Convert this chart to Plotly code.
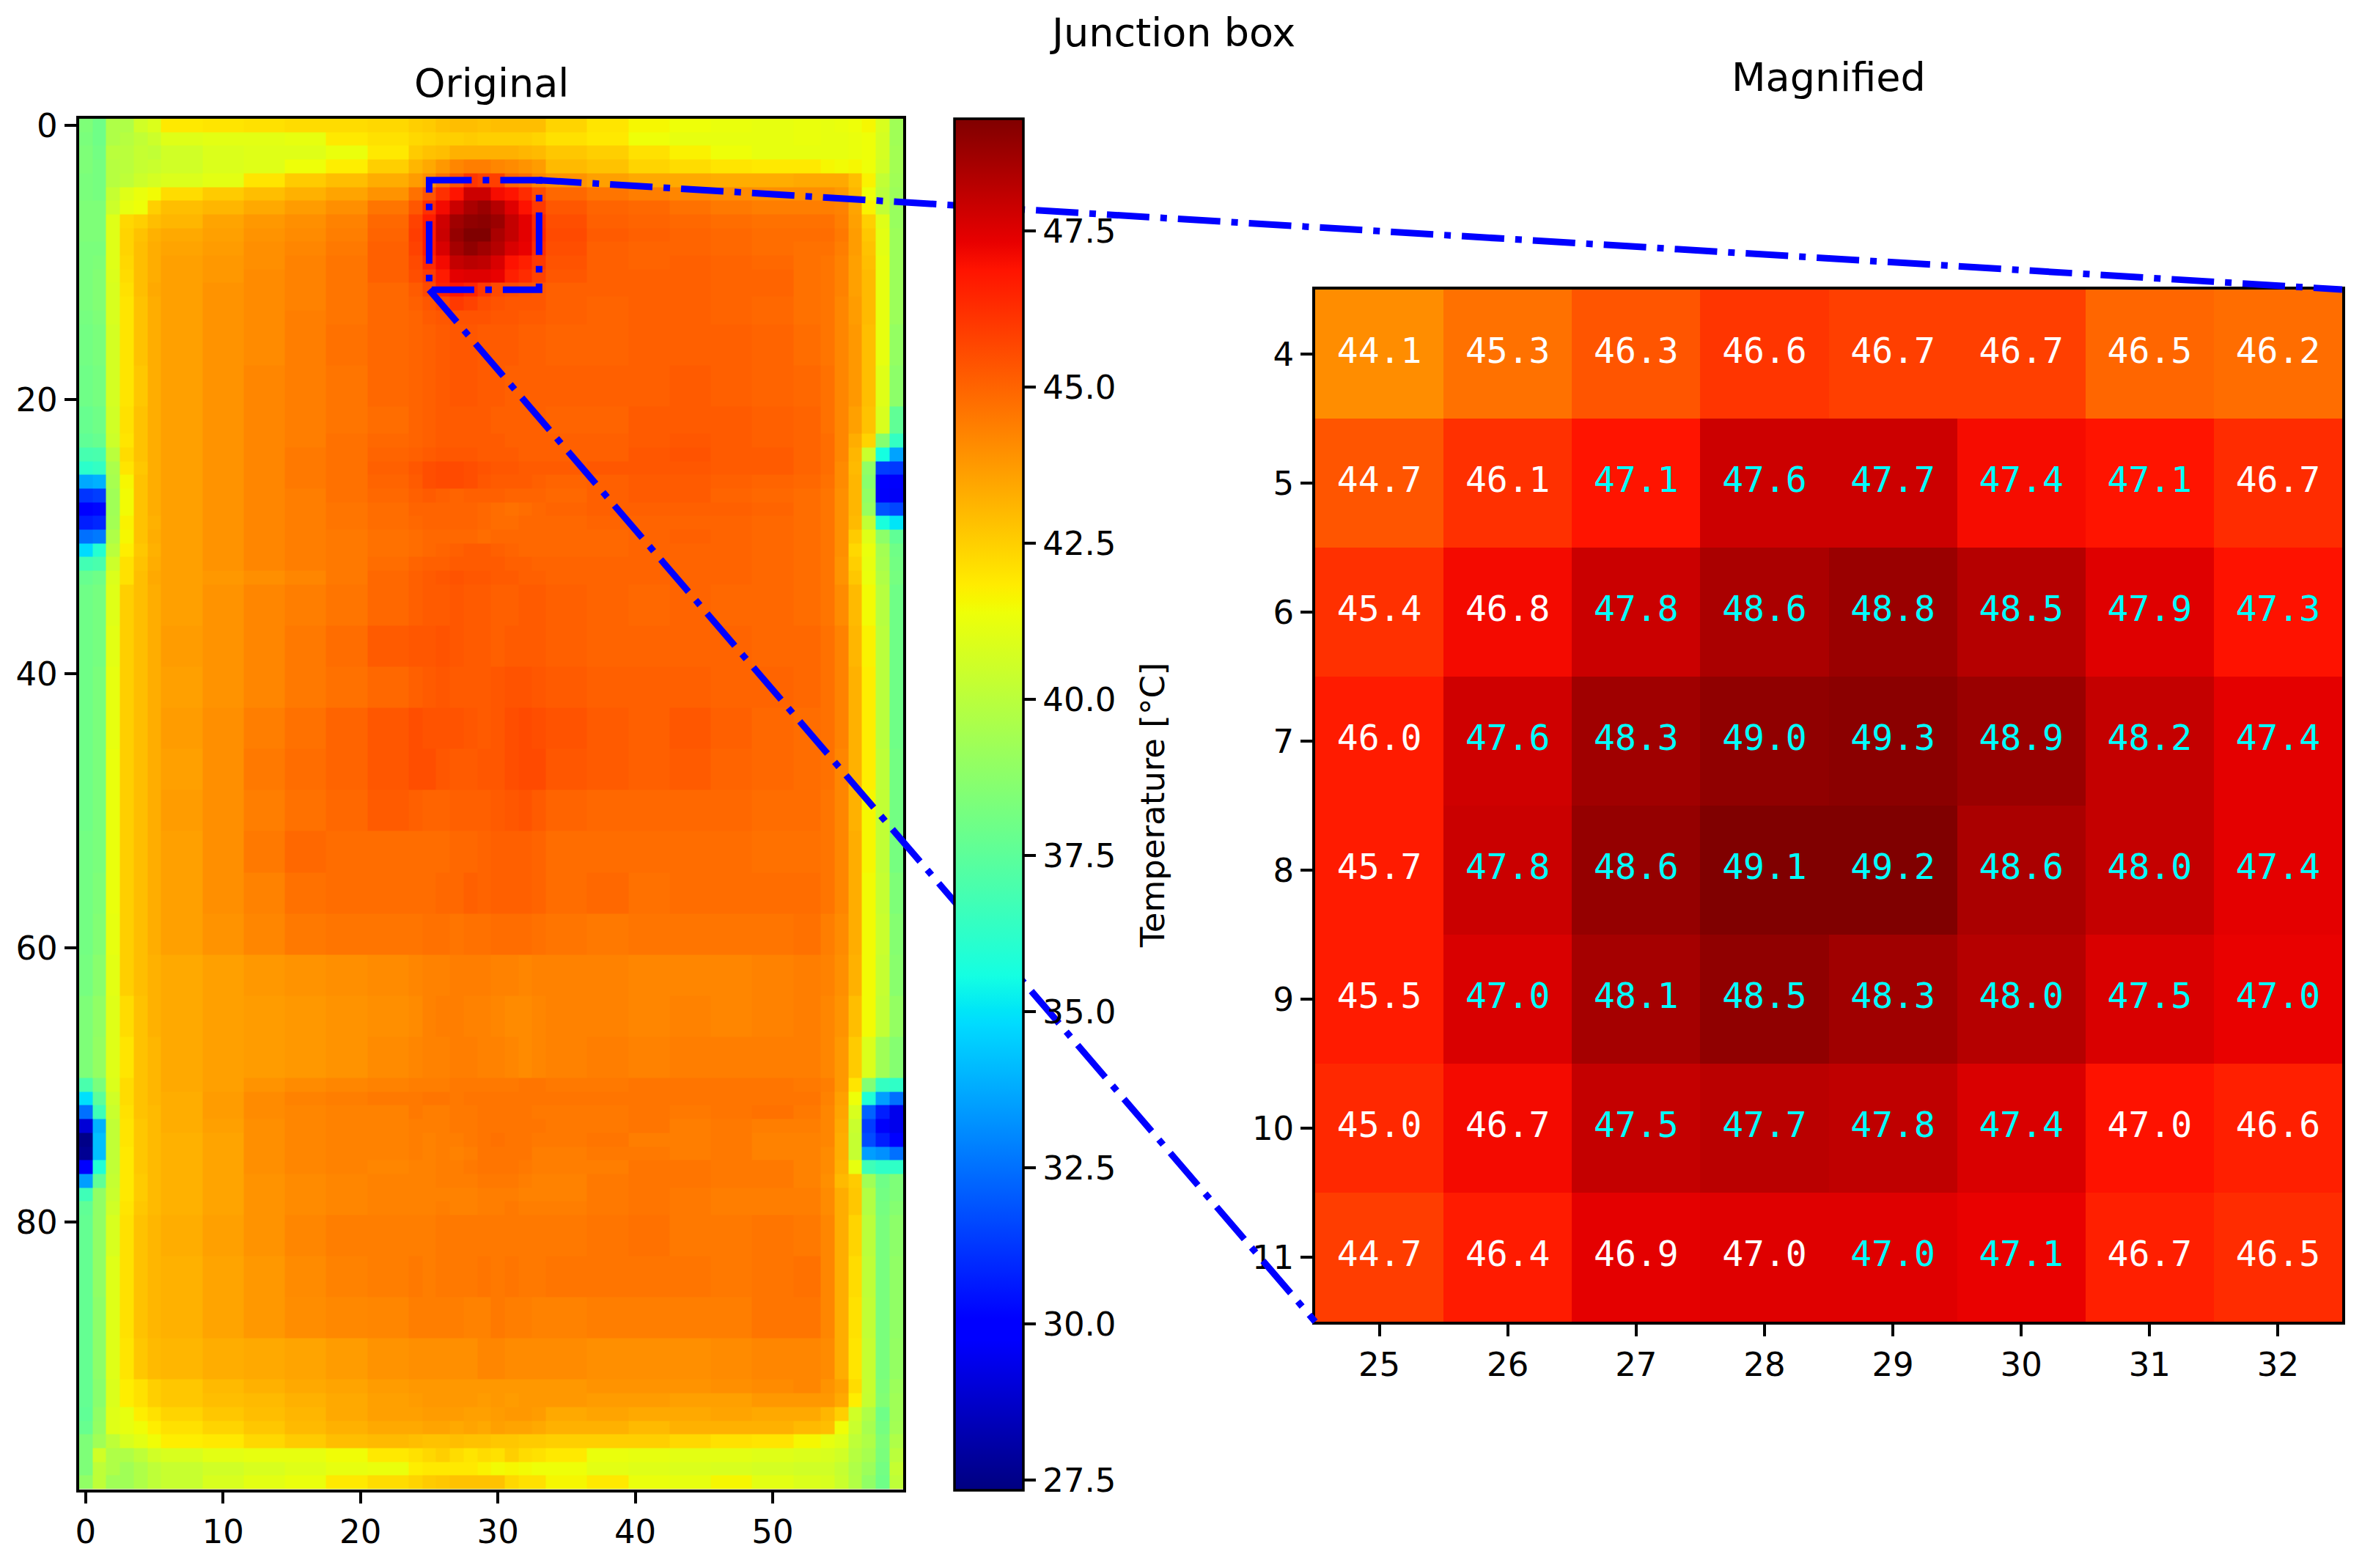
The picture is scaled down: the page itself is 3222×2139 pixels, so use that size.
import plotly.graph_objects as go

# ---- data -----------------------------------------------------------------
COL_EDGES = [-0.5, 0.5, 1.5, 2.5, 3.5, 4.5, 5.5, 8.5, 11.5, 14.5, 17.5, 20.5, 23.5,
             24.5, 25.5, 26.5, 27.5, 28.5, 29.5, 30.5, 31.5, 32.5, 33.5,
             36.5, 39.5, 42.5, 45.5, 48.5, 51.5, 53.5,
             54.5, 55.5, 56.5, 57.5, 58.5, 59.5]
ROW_EDGES = [-0.5, 0.5, 1.5, 2.5, 3.5, 4.5, 5.5, 6.5, 7.5, 8.5, 9.5, 10.5, 11.5, 12.5, 13.5, 14.5,
             17.5, 20.5, 22.5,
             23.5, 24.5, 25.5, 26.5, 27.5, 28.5, 29.5, 30.5, 31.5, 32.5, 33.5,
             36.5, 39.5, 42.5, 45.5, 48.5, 51.5, 54.5, 57.5, 60.5, 63.5, 66.5, 69.5,
             70.5, 71.5, 72.5, 73.5, 74.5, 75.5, 76.5, 77.5, 78.5, 79.5,
             82.5, 85.5, 88.5, 91.5,
             92.5, 93.5, 94.5, 95.5, 96.5, 97.5, 98.5, 99.5]

ORIGINAL_TEMPS = [
 [38.4,38.0,39.7,39.7,40.6,40.9, 41.9,42.0,42.1,42.2,42.2,42.3, 42.5,42.6,42.8,42.9,42.9,42.8,42.9,42.9,42.9,42.9, 42.4,42.0,41.6,41.4,41.3,41.2,41.3, 41.2,41.3,41.4,41.6,40.8,39.3],
 [38.3,38.0,39.7,39.9,40.2,40.5, 41.0,41.1,41.1,41.2,41.9,42.1, 42.3,42.4,42.5,42.5,42.6,42.5,42.5,42.5,42.5,42.4, 42.1,41.9,41.4,41.2,41.2,41.2,41.3, 41.2,41.2,41.3,41.4,40.7,39.3],
 [38.4,38.1,40.0,40.0,40.3,40.2, 40.6,40.9,41.0,41.0,41.3,41.9, 42.6,42.8,42.9,43.2,43.2,43.2,43.2,43.2,43.1,43.0, 42.7,42.5,42.1,41.7,41.4,41.2,41.2, 41.2,41.2,41.3,41.4,40.7,39.4],
 [38.4,38.2,39.9,40.0,40.3,40.4, 40.6,40.9,41.0,41.4,41.8,42.5, 43.1,43.4,43.8,44.2,44.4,44.4,44.2,44.1,43.9,43.7, 43.0,42.8,42.4,42.2,42.0,41.9,41.9, 41.6,41.5,41.6,41.4,40.6,39.4],
 [38.3,38.2,39.9,40.1,40.5,40.7, 40.9,41.1,42.0,42.6,42.9,43.3, 43.7,44.05,44.7,45.35,46.1,45.85,45.85,44.95,44.8,44.2, 43.9,43.6,43.4,43.4,43.3,43.3,43.4, 43.4,43.4,42.9,41.7,40.2,39.3],
 [38.3,38.2,40.3,41.0,41.3,41.5, 42.2,42.6,42.9,43.2,43.5,43.9, 44.7,45.35,46.2,46.86,47.85,47.85,47.05,46.86,46.3,45.5, 44.9,44.6,44.4,44.2,44.1,44.0,44.0, 44.0,43.8,43.1,41.4,40.0,39.2],
 [38.4,38.4,40.5,41.2,41.4,42.5, 42.9,43.1,43.4,43.7,44.0,44.6, 45.3,46.2,47.1,47.9,48.5,48.8,48.3,47.5,46.9,46.0, 45.3,45.0,44.9,44.7,44.5,44.4,44.4, 44.4,44.3,43.5,41.7,40.2,39.1],
 [38.4,38.4,41.0,42.3,42.5,42.9, 43.1,43.5,43.8,44.0,44.3,44.9, 45.8,46.7,47.8,48.7,49.0,49.1,48.8,48.0,47.4,46.4, 45.5,45.1,45.0,44.9,44.8,44.7,44.7, 44.7,44.4,43.6,42.5,41.0,39.1],
 [38.4,38.4,41.0,42.4,42.8,43.2, 43.4,43.6,43.9,44.1,44.4,45.0, 45.9,46.7,47.9,48.9,49.3,49.3,48.5,48.0,47.4,46.5, 45.6,45.2,45.1,45.0,44.9,44.8,44.8, 44.8,44.5,43.7,42.7,41.1,39.2],
 [38.3,38.3,41.0,42.4,42.9,43.3, 43.5,43.7,44.0,44.2,44.5,45.1, 45.8,46.7,47.6,48.6,49.0,48.7,48.3,47.6,47.3,46.3, 45.5,45.1,45.0,45.0,44.9,44.8,44.7, 44.7,44.4,43.7,42.8,41.1,39.2],
 [38.3,38.4,41.0,42.3,42.9,43.3, 43.6,43.8,44.0,44.3,44.6,45.1, 45.6,46.4,47.1,48.0,48.2,48.1,47.6,46.9,46.6,46.0, 45.4,45.1,45.0,45.1,45.0,44.9,44.7, 44.6,44.3,43.6,42.9,41.2,39.2],
 [38.3,38.5,40.9,42.2,42.9,43.3, 43.6,43.8,44.1,44.3,44.6,45.1, 45.5,45.9,46.7,47.4,47.5,47.5,47.3,46.6,46.3,45.8, 45.3,45.1,45.1,45.1,45.0,45.0,44.7, 44.6,44.3,43.6,43.0,41.2,39.2],
 [38.3,38.5,40.8,42.1,42.9,43.4, 43.6,43.9,44.1,44.3,44.6,44.9, 45.2,45.6,46.5,46.8,46.5,46.0,45.6,45.5,45.4,45.3, 45.1,45.1,45.1,45.1,45.0,45.0,44.7, 44.6,44.3,43.6,43.0,41.2,39.2],
 [38.3,38.5,40.8,42.0,42.8,43.3, 43.6,43.9,44.1,44.3,44.6,44.9, 45.1,45.3,45.6,46.0,45.8,45.5,45.4,45.3,45.3,45.3, 45.1,45.0,45.1,45.1,45.0,44.9,44.7, 44.6,44.2,43.7,43.0,41.2,39.2],
 [38.2,38.4,40.8,42.0,42.8,43.3, 43.6,43.9,44.1,44.4,44.6,44.9, 45.0,45.2,45.3,45.4,45.4,45.4,45.3,45.3,45.2,45.2, 45.1,45.0,45.1,45.1,45.0,44.9,44.7, 44.6,44.2,43.7,43.0,41.2,39.2],
 [38.1,38.3,40.7,42.0,42.8,43.3, 43.6,43.9,44.1,44.4,44.7,44.9, 45.0,45.1,45.2,45.3,45.3,45.2,45.2,45.2,45.1,45.1, 45.0,45.0,45.1,45.1,45.1,45.0,44.8, 44.6,44.2,43.8,42.9,41.2,39.0],
 [38.0,38.2,40.7,42.0,42.7,43.3, 43.6,43.9,44.2,44.4,44.6,44.9, 45.0,45.1,45.2,45.3,45.3,45.2,45.2,45.1,45.1,45.1, 45.1,45.1,45.1,45.2,45.1,45.0,44.9, 44.7,44.2,43.8,42.9,41.0,38.8],
 [37.8,38.0,40.6,42.1,42.8,43.3, 43.6,43.9,44.2,44.4,44.6,44.8, 45.0,45.1,45.2,45.2,45.2,45.2,45.1,45.1,45.1,45.1, 45.0,45.0,45.2,45.2,45.2,45.1,45.0, 44.7,44.2,43.6,42.8,40.8,37.6],
 [37.6,37.8,40.5,42.0,42.8,43.3, 43.6,43.9,44.2,44.4,44.7,44.9, 45.0,45.1,45.2,45.2,45.2,45.2,45.2,45.1,45.1,45.1, 45.1,45.1,45.2,45.3,45.2,45.1,45.0, 44.8,44.2,43.3,42.4,38.6,36.4],
 [36.9,37.0,40.0,42.2,42.8,43.3, 43.6,43.9,44.2,44.5,44.7,45.0, 45.1,45.2,45.3,45.3,45.3,45.2,45.2,45.2,45.1,45.1, 45.1,45.1,45.3,45.4,45.2,45.2,45.0, 44.8,44.2,43.1,40.4,35.6,33.6],
 [36.2,36.4,39.6,42.0,42.7,43.3, 43.6,43.9,44.2,44.5,44.7,45.1, 45.3,45.5,45.6,45.6,45.5,45.4,45.3,45.3,45.2,45.2, 45.2,45.3,45.3,45.3,45.2,45.2,45.0, 44.8,44.1,43.0,38.9,31.4,31.3],
 [33.7,33.9,39.5,41.6,42.8,43.3, 43.6,43.9,44.2,44.5,44.7,45.0, 45.2,45.5,45.6,45.6,45.5,45.3,45.2,45.2,45.2,45.1, 45.0,45.1,45.2,45.2,45.1,45.0,44.9, 44.7,44.1,43.1,38.7,29.8,29.7],
 [31.2,31.4,39.3,41.5,42.8,43.3, 43.6,43.9,44.2,44.4,44.7,44.9, 45.1,45.2,45.1,45.0,45.1,45.1,45.1,45.0,45.0,45.0, 44.9,45.1,45.2,45.2,45.0,44.9,44.8, 44.6,44.0,43.1,38.9,29.7,29.6],
 [29.9,30.2,39.3,41.5,42.8,43.3, 43.6,43.9,44.2,44.4,44.6,44.8, 45.0,45.0,45.0,45.0,45.0,44.9,44.8,44.7,44.8,44.9, 45.0,45.1,45.1,45.1,45.1,45.0,44.8, 44.6,44.0,43.1,39.1,31.9,31.6],
 [30.7,30.9,39.4,41.7,42.8,43.2, 43.6,43.9,44.2,44.4,44.6,44.8, 44.9,45.0,45.0,45.0,45.0,44.9,44.8,44.8,44.9,44.9, 44.9,45.0,45.0,45.0,45.0,44.9,44.8, 44.6,44.0,43.0,40.2,35.7,35.0],
 [32.5,32.7,39.7,41.6,42.8,43.3, 43.6,43.9,44.2,44.4,44.5,44.7, 44.8,44.9,44.9,44.9,44.9,44.8,44.9,44.9,44.9,44.9, 44.9,44.9,45.0,45.1,45.0,44.9,44.8, 44.6,44.0,42.6,41.0,38.8,37.6],
 [34.8,36.0,40.0,41.8,42.7,43.2, 43.6,43.9,44.2,44.4,44.5,44.7, 44.8,44.9,45.0,45.1,45.2,45.2,45.1,45.0,44.9,44.9, 44.9,44.9,45.0,45.0,45.0,44.9,44.8, 44.6,44.0,42.3,41.3,39.4,38.0],
 [36.8,37.0,40.5,42.1,42.8,43.3, 43.6,43.9,44.2,44.4,44.5,44.8, 45.0,45.1,45.1,45.2,45.2,45.2,45.2,45.1,45.1,45.0, 45.0,45.0,45.0,45.0,45.0,44.9,44.8, 44.6,43.9,42.5,41.2,39.5,38.1],
 [37.8,38.0,40.9,42.1,42.9,43.4, 43.6,43.8,44.0,44.2,44.5,44.9, 45.1,45.2,45.3,45.4,45.3,45.3,45.2,45.2,45.1,45.1, 45.0,45.0,45.0,45.0,45.0,44.9,44.8, 44.6,43.9,42.7,41.3,39.7,38.2],
 [38.0,38.2,41.0,42.5,42.9,43.3, 43.6,43.9,44.2,44.4,44.6,44.9, 45.1,45.2,45.2,45.3,45.2,45.2,45.1,45.1,45.2,45.2, 45.1,45.0,44.9,45.0,44.9,44.9,44.8, 44.6,44.1,43.0,41.5,39.9,38.0],
 [38.0,38.2,41.1,42.5,42.9,43.3, 43.7,43.9,44.2,44.5,44.8,45.2, 45.3,45.3,45.4,45.3,45.2,45.2,45.1,45.2,45.2,45.2, 45.1,45.0,45.0,45.0,45.0,44.9,44.9, 44.7,44.3,43.1,41.7,40.0,38.0],
 [38.0,38.3,41.2,42.5,42.9,43.3, 43.6,43.9,44.2,44.5,44.7,44.9, 45.1,45.2,45.3,45.2,45.2,45.2,45.3,45.4,45.4,45.3, 45.2,45.1,45.1,45.1,45.0,45.0,44.9, 44.7,44.3,43.2,41.8,40.0,38.0],
 [38.0,38.3,41.2,42.5,42.9,43.3, 43.7,44.0,44.4,44.7,45.0,45.3, 45.5,45.4,45.4,45.4,45.3,45.2,45.3,45.5,45.6,45.5, 45.4,45.2,45.1,45.3,45.1,44.9,44.8, 44.7,44.3,43.2,41.8,40.0,38.0],
 [38.0,38.3,41.3,42.5,42.9,43.3, 43.6,44.0,44.5,44.8,45.0,45.3, 45.5,45.5,45.3,45.2,45.2,45.3,45.3,45.5,45.6,45.6, 45.3,45.2,45.1,45.2,45.0,44.9,44.8, 44.7,44.2,43.2,41.8,40.1,38.1],
 [38.0,38.3,41.3,42.5,42.9,43.3, 43.7,44.0,44.4,44.7,44.9,45.2, 45.1,45.0,45.0,45.1,45.1,45.1,45.2,45.3,45.4,45.2, 45.0,44.9,44.9,44.9,44.9,44.8,44.8, 44.6,44.2,43.2,41.6,40.2,38.1],
 [38.1,38.3,41.3,42.5,42.9,43.3, 43.6,44.0,44.5,44.9,44.8,44.8, 44.8,44.8,44.8,44.9,44.9,45.0,45.1,45.1,45.1,45.0, 44.8,44.8,44.8,44.8,44.8,44.7,44.7, 44.6,44.2,43.3,41.6,40.2,38.2],
 [38.1,38.4,41.3,42.5,42.9,43.3, 43.6,44.0,44.3,44.7,44.8,44.8, 44.8,44.8,44.9,44.9,45.1,45.0,45.1,45.1,45.1,45.0, 44.8,44.9,44.7,44.8,44.8,44.8,44.8, 44.6,44.2,43.3,41.5,40.3,38.4],
 [38.1,38.5,41.2,42.5,42.9,43.3, 43.6,43.9,44.2,44.5,44.6,44.6, 44.6,44.7,44.7,44.6,44.7,44.7,44.8,44.8,44.8,44.7, 44.6,44.5,44.6,44.6,44.6,44.6,44.7, 44.4,44.1,43.3,41.5,40.4,38.6],
 [38.2,38.7,41.1,42.5,42.9,43.2, 43.4,43.6,43.8,43.9,44.0,44.1, 44.2,44.3,44.3,44.4,44.4,44.4,44.3,44.3,44.2,44.3, 44.3,44.3,44.2,44.2,44.2,44.3,44.4, 44.3,44.0,43.2,41.5,40.3,38.7],
 [38.4,38.9,41.0,42.2,42.8,43.2, 43.4,43.6,43.7,43.8,43.9,44.0, 44.1,44.3,44.4,44.4,44.3,44.3,44.2,44.1,44.1,44.2, 44.3,44.3,44.2,44.3,44.2,44.3,44.4, 44.2,43.9,42.9,41.5,40.2,39.0],
 [38.4,39.0,41.0,42.0,42.8,43.1, 43.4,43.6,43.7,43.8,43.9,44.1, 44.2,44.3,44.3,44.4,44.4,44.3,44.3,44.2,44.1,44.2, 44.3,44.4,44.3,44.4,44.4,44.4,44.4, 44.2,43.8,42.6,40.9,39.3,38.6],
 [37.0,38.3,40.9,42.2,42.8,43.1, 43.4,43.6,43.9,44.1,44.2,44.3, 44.4,44.4,44.4,44.5,44.5,44.5,44.5,44.5,44.6,44.6, 44.5,44.5,44.6,44.6,44.6,44.6,44.5, 44.4,43.8,42.0,38.5,36.4,36.3],
 [34.9,37.5,40.6,42.2,42.8,43.1, 43.3,43.7,44.1,44.3,44.4,44.5, 44.5,44.6,44.6,44.5,44.6,44.6,44.6,44.6,44.6,44.6, 44.6,44.6,44.6,44.6,44.6,44.6,44.6, 44.3,43.6,41.4,35.9,33.5,32.5],
 [32.5,36.7,40.4,42.1,42.8,43.0, 43.3,43.7,44.1,44.2,44.3,44.3, 44.5,44.4,44.4,44.5,44.5,44.6,44.6,44.6,44.6,44.5, 44.5,44.5,44.6,44.5,44.6,44.7,44.5, 44.2,43.5,40.8,32.2,30.7,29.4],
 [29.0,33.9,40.2,42.0,42.7,43.0, 43.3,43.6,44.0,44.2,44.3,44.3, 44.4,44.4,44.4,44.5,44.5,44.6,44.6,44.6,44.6,44.6, 44.5,44.5,44.6,44.4,44.5,44.4,44.4, 44.2,43.4,40.4,31.4,29.7,29.4],
 [27.5,34.2,40.2,42.0,42.7,43.0, 43.2,43.5,44.0,44.2,44.3,44.3, 44.4,44.3,44.4,44.4,44.5,44.6,44.7,44.6,44.6,44.5, 44.5,44.6,44.4,44.4,44.5,44.3,44.3, 44.2,43.3,40.3,31.7,30.7,29.8],
 [27.7,34.2,40.2,41.9,42.7,43.0, 43.2,43.5,44.0,44.2,44.3,44.3, 44.4,44.3,44.4,44.3,44.4,44.6,44.6,44.6,44.6,44.4, 44.4,44.5,44.5,44.4,44.5,44.3,44.3, 44.1,43.3,40.3,33.5,33.2,32.5],
 [29.9,35.9,40.2,41.9,42.7,43.0, 43.2,43.5,44.0,44.2,44.3,44.2, 44.3,44.3,44.4,44.4,44.5,44.6,44.6,44.6,44.5,44.4, 44.4,44.4,44.6,44.6,44.5,44.5,44.3, 44.1,43.2,41.2,36.7,36.3,36.3],
 [33.5,37.6,40.3,41.9,42.6,43.0, 43.2,43.5,43.9,44.1,44.2,44.3, 44.3,44.3,44.4,44.4,44.4,44.5,44.5,44.5,44.4,44.3, 44.3,44.5,44.6,44.6,44.5,44.5,44.3, 44.0,43.0,42.6,39.3,38.0,38.4],
 [36.7,38.9,40.4,41.9,42.6,43.0, 43.2,43.5,43.9,44.1,44.2,44.3, 44.3,44.3,44.3,44.3,44.3,44.4,44.4,44.4,44.3,44.3, 44.3,44.5,44.6,44.5,44.4,44.4,44.4, 44.1,43.3,42.7,39.8,38.1,38.4],
 [37.6,38.9,40.6,42.0,42.7,43.0, 43.2,43.5,43.9,44.1,44.2,44.3, 44.3,44.3,44.4,44.3,44.3,44.4,44.4,44.5,44.4,44.4, 44.4,44.5,44.6,44.5,44.4,44.4,44.4, 44.1,43.3,42.7,39.8,38.2,38.6],
 [37.7,38.9,40.8,42.1,42.8,43.1, 43.3,43.6,43.9,44.2,44.4,44.4, 44.4,44.4,44.5,44.5,44.5,44.5,44.5,44.5,44.5,44.5, 44.5,44.6,44.7,44.5,44.5,44.6,44.5, 44.2,43.3,42.4,40.0,38.3,38.8],
 [37.7,38.9,41.0,42.1,42.8,43.1, 43.2,43.5,43.8,44.1,44.3,44.4, 44.5,44.4,44.5,44.5,44.5,44.6,44.5,44.6,44.5,44.5, 44.6,44.6,44.6,44.6,44.5,44.6,44.7, 44.2,43.3,42.2,40.1,38.3,38.9],
 [37.7,38.8,41.0,42.1,42.8,43.1, 43.2,43.5,43.8,44.05,44.15,44.2, 44.4,44.4,44.4,44.4,44.3,44.3,44.5,44.4,44.4,44.3, 44.3,44.4,44.4,44.4,44.4,44.6,44.6, 44.2,43.3,42.1,40.2,38.3,38.9],
 [37.7,38.8,41.0,42.0,42.7,43.0, 43.1,43.3,43.4,43.5,43.7,43.9, 44.0,44.0,44.0,44.0,44.0,44.2,44.2,44.1,44.1,44.1, 44.1,44.0,44.0,44.0,44.1,44.2,44.2, 44.1,43.3,42.0,40.3,38.3,39.0],
 [37.7,38.7,40.9,41.8,42.1,42.5, 42.7,43.0,43.2,43.4,43.5,43.7, 43.8,43.8,43.8,43.8,43.8,43.8,43.8,43.8,43.8,43.8, 43.8,43.9,43.9,43.9,44.0,44.1,44.2, 43.9,43.6,42.2,40.35,38.4,39.2],
 [37.7,38.7,40.9,41.8,42.1,42.5, 42.7,42.9,43.0,43.2,43.4,43.6, 43.7,43.8,43.8,43.8,43.8,43.7,43.8,43.7,43.8,43.8, 43.8,43.7,43.7,43.6,43.6,43.8,43.8, 43.8,43.4,41.8,40.3,38.5,39.3],
 [37.6,38.9,41.0,41.2,41.8,42.1, 42.4,42.7,42.9,43.1,43.4,43.6, 43.6,43.7,43.7,43.7,43.6,43.6,43.7,43.8,43.8,43.7, 43.4,43.5,43.4,43.4,43.5,43.4,43.4, 43.1,42.5,40.6,39.7,38.0,39.3],
 [37.8,39.0,41.0,41.2,41.45,41.8, 42.1,42.4,42.7,43.0,43.2,43.4, 43.4,43.5,43.5,43.4,43.5,43.4,43.6,43.5,43.5,43.4, 43.2,43.2,43.0,43.2,43.2,43.2,43.0, 42.9,41.45,40.4,39.5,38.2,39.4],
 [38.4,39.3,40.1,40.8,41.1,41.45, 41.8,41.9,42.3,42.6,42.9,43.0, 42.9,42.8,42.8,42.9,42.8,42.8,42.7,42.7,42.6,42.6, 42.5,42.5,42.5,42.3,42.1,42.0,41.6, 41.2,41.0,40.1,39.7,38.4,39.7],
 [38.4,40.6,39.7,39.7,40.1,40.6, 40.8,41.1,41.2,41.2,41.45,41.9, 42.1,42.3,42.5,42.2,42.0,42.2,42.1,42.5,42.2,42.1, 41.9,41.3,41.2,41.1,41.1,41.0,40.9, 40.8,40.6,39.9,39.5,38.3,40.0],
 [38.4,40.1,39.7,39.3,39.7,40.1, 40.35,40.6,40.8,41.0,41.2,41.3, 41.8,41.9,41.9,41.9,41.9,41.7,41.5,41.6,41.5,41.4, 41.4,41.1,41.0,40.9,40.8,40.7,40.6, 40.6,40.3,39.7,39.2,38.1,40.3],
 [38.9,40.1,39.3,39.3,39.7,40.1, 40.35,40.8,41.1,41.3,41.9,42.2, 42.4,42.6,42.7,42.8,42.8,42.8,42.8,42.3,42.1,42.1, 41.6,41.9,41.3,41.2,41.6,41.1,40.9, 40.8,40.4,39.8,38.9,38.0,40.1],
]

MAG_X = [25, 26, 27, 28, 29, 30, 31, 32]
MAG_Y = [4, 5, 6, 7, 8, 9, 10, 11]
MAG_COLOUR_TEMPS = [
 [44.05,44.7,45.35,46.1,45.85,45.85,44.95,44.8],
 [45.35,46.2,46.86,47.85,47.85,47.05,46.86,46.3],
 [46.2,47.1,47.9,48.5,48.8,48.3,47.5,46.9],
 [46.7,47.8,48.7,49.0,49.1,48.8,48.0,47.4],
 [46.7,47.9,48.9,49.3,49.3,48.5,48.0,47.4],
 [46.7,47.6,48.6,49.0,48.7,48.3,47.6,47.3],
 [46.4,47.1,48.0,48.2,48.1,47.6,46.9,46.6],
 [45.9,46.7,47.4,47.5,47.5,47.3,46.6,46.3],
]
MAG_LABELS = [
 ["44.1","45.3","46.3","46.6","46.7","46.7","46.5","46.2"],
 ["44.7","46.1","47.1","47.6","47.7","47.4","47.1","46.7"],
 ["45.4","46.8","47.8","48.6","48.8","48.5","47.9","47.3"],
 ["46.0","47.6","48.3","49.0","49.3","48.9","48.2","47.4"],
 ["45.7","47.8","48.6","49.1","49.2","48.6","48.0","47.4"],
 ["45.5","47.0","48.1","48.5","48.3","48.0","47.5","47.0"],
 ["45.0","46.7","47.5","47.7","47.8","47.4","47.0","46.6"],
 ["44.7","46.4","46.9","47.0","47.0","47.1","46.7","46.5"],
]
MAG_LABEL_CYAN = [
 [0,0,0,0,0,0,0,0],
 [0,0,1,1,1,1,1,0],
 [0,0,1,1,1,1,1,1],
 [0,1,1,1,1,1,1,1],
 [0,1,1,1,1,1,1,1],
 [0,1,1,1,1,1,1,1],
 [0,0,1,1,1,1,0,0],
 [0,0,0,0,1,1,0,0],
]
X_TICKS = [0, 10, 20, 30, 40, 50]
Y_TICKS = [0, 20, 40, 60, 80]
CBAR_TICKS = [27.5, 30.0, 32.5, 35.0, 37.5, 40.0, 42.5, 45.0, 47.5]
ZOOM_BOX = (25, 33, 4, 12)

# ---- layout constants (pixels) --------------------------------------------
W, H = 3222, 2139
A1 = (107.5, 1232.0, 161.5, 2031.5)
A2 = (1794.0, 3195.0, 395.0, 1803.0)
CB = (1302.0, 1396.0, 162.0, 2032.5)
C_MIN, C_MAX = 27.34, 49.3
FONT = "DejaVu Sans"
BLUE = "#0000ff"
DASH = "58px,15px,9px,15px"
LW = 9

JET = [
 [0.0, "rgb(0,0,128)"], [0.11, "rgb(0,0,255)"], [0.125, "rgb(0,0,255)"],
 [0.34, "rgb(0,219,255)"], [0.35, "rgb(0,230,247)"], [0.375, "rgb(20,255,226)"],
 [0.64, "rgb(238,255,8)"], [0.65, "rgb(247,246,0)"], [0.66, "rgb(255,236,0)"],
 [0.89, "rgb(255,19,0)"], [0.91, "rgb(232,0,0)"], [1.0, "rgb(128,0,0)"],
]


def px(x):
    return x / W


def py(y):
    return 1 - y / H


def a1_paper(x, y):
    fx = (x + 0.5) / 60
    fy = (y + 0.5) / 100
    return px(A1[0] + fx * (A1[1] - A1[0])), py(A1[2] + fy * (A1[3] - A1[2]))


fig = go.Figure()
fig.add_trace(go.Heatmap(x=COL_EDGES, y=ROW_EDGES, z=ORIGINAL_TEMPS, coloraxis="coloraxis",
                         xaxis="x", yaxis="y", zsmooth=False, hoverinfo="skip"))
fig.add_trace(go.Heatmap(x=MAG_X, y=MAG_Y, z=MAG_COLOUR_TEMPS, coloraxis="coloraxis",
                         xaxis="x2", yaxis="y2", zsmooth=False, hoverinfo="skip"))

tx, ty, tt, tc = [], [], [], []
for i, yv in enumerate(MAG_Y):
    for j, xv in enumerate(MAG_X):
        tx.append(xv)
        ty.append(yv)
        tt.append(MAG_LABELS[i][j])
        tc.append("#00ffff" if MAG_LABEL_CYAN[i][j] else "#ffffff")
fig.add_trace(go.Scatter(x=tx, y=ty, text=tt, mode="text", xaxis="x2", yaxis="y2",
                         textposition="middle center", hoverinfo="skip",
                         textfont=dict(family="DejaVu Sans Mono", size=48, color=tc),
                         showlegend=False))

axis = dict(showgrid=False, zeroline=False, showline=True, mirror=True, linecolor="#000",
            linewidth=3.5, ticks="outside", ticklen=16, tickwidth=3.5, tickcolor="#000",
            tickmode="array", tickfont=dict(family=FONT, size=45, color="#000"))

x0, x1, yb, yt = ZOOM_BOX[0], ZOOM_BOX[1], ZOOM_BOX[3], ZOOM_BOX[2]
shapes = [
    dict(type="rect", xref="x", yref="y", x0=x0, x1=x1, y0=yt, y1=yb, layer="above",
         line=dict(color=BLUE, width=LW, dash=DASH)),
]
sx, sy = a1_paper(x1, yt)
shapes.append(dict(type="line", xref="paper", yref="paper", x0=sx, y0=sy, x1=px(A2[1]), y1=py(A2[2]),
                   layer="above", line=dict(color=BLUE, width=LW, dash=DASH)))
sx, sy = a1_paper(x0, yb)
shapes.append(dict(type="line", xref="paper", yref="paper", x0=sx, y0=sy, x1=px(A2[0]), y1=py(A2[3]),
                   layer="above", line=dict(color=BLUE, width=LW, dash=DASH)))


def label(text, x, y, size, angle=0):
    return dict(text=text, xref="paper", yref="paper", x=px(x), y=py(y), showarrow=False,
                xanchor="center", yanchor="middle", textangle=angle,
                font=dict(family=FONT, size=size, color="#000"))


fig.update_layout(
    width=W, height=H, margin=dict(l=0, r=0, t=0, b=0, autoexpand=False), autosize=False,
    paper_bgcolor="#fff", plot_bgcolor="#fff", showlegend=False,
    xaxis=dict(axis, domain=[px(A1[0]), px(A1[1])], range=[-0.5, 59.5], tickvals=X_TICKS,
               anchor="y"),
    yaxis=dict(axis, domain=[py(A1[3]), py(A1[2])], range=[99.5, -0.5], tickvals=Y_TICKS,
               anchor="x"),
    xaxis2=dict(axis, domain=[px(A2[0]), px(A2[1])], range=[24.5, 32.5], tickvals=MAG_X,
                anchor="y2"),
    yaxis2=dict(axis, domain=[py(A2[3]), py(A2[2])], range=[11.5, 3.5], tickvals=MAG_Y,
                anchor="x2"),
    coloraxis=dict(
        colorscale=JET, cmin=C_MIN, cmax=C_MAX,
        colorbar=dict(
            x=px(CB[0]), xanchor="left", xpad=0, y=py(CB[2]), yanchor="top", ypad=0,
            thickness=CB[1] - CB[0], thicknessmode="pixels",
            len=CB[3] - CB[2], lenmode="pixels",
            outlinecolor="#000", outlinewidth=3.5, borderwidth=0,
            ticks="outside", ticklen=16, tickwidth=3.5, tickcolor="#000",
            tickmode="array", tickvals=CBAR_TICKS,
            ticktext=["%.1f" % t for t in CBAR_TICKS],
            tickfont=dict(family=FONT, size=45, color="#000"),
        ),
    ),
    shapes=shapes,
    annotations=[
        label("Original", 670, 113, 54),
        label("Magnified", 2494, 106, 54),
        label("Junction box", 1599, 45, 54),
        label("Temperature [°C]", 1572, 1099, 45, -90),
    ],
)

fig.write_html("out.html", config=dict(displayModeBar=False),
               post_script="document.body.style.margin='0';document.body.style.overflow='hidden';")
